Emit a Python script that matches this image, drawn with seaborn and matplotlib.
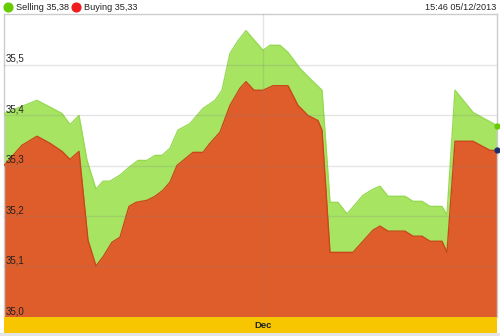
import matplotlib
matplotlib.use("Agg")
import matplotlib.pyplot as plt
from matplotlib.patches import Rectangle
from matplotlib.lines import Line2D
import matplotlib.transforms as mtransforms
import seaborn as sns

# --- data (time position along the axis, rate values) ---
sell_t = [0, 33, 58, 66, 75, 83, 92, 99, 106, 116, 126, 134, 143, 151, 158, 166, 174, 186,
          199, 211, 218, 226, 234, 242, 259, 266, 276, 284, 296, 306, 318, 326, 334, 343,
          359, 369, 376, 384, 401, 409, 418, 426, 438, 443, 451, 469, 493]
sell_v = [35.403, 35.429, 35.403, 35.381, 35.399, 35.310, 35.253, 35.269, 35.269, 35.281,
          35.298, 35.310, 35.310, 35.320, 35.320, 35.334, 35.370, 35.383, 35.413, 35.429,
          35.449, 35.522, 35.547, 35.567, 35.528, 35.538, 35.538, 35.524, 35.492, 35.472,
          35.449, 35.227, 35.227, 35.204, 35.241, 35.253, 35.259, 35.239, 35.239, 35.229,
          35.229, 35.219, 35.219, 35.202, 35.449, 35.405, 35.379]
buy_t = [0, 18, 33, 46, 58, 66, 75, 84, 92, 99, 108, 116, 125, 132, 143, 151, 159, 166, 173,
         189, 199, 206, 216, 226, 236, 242, 250, 259, 269, 284, 294, 304, 314, 318, 326,
         349, 369, 376, 384, 401, 409, 418, 426, 438, 443, 451, 469, 486, 493]
buy_v = [35.300, 35.340, 35.358, 35.344, 35.328, 35.312, 35.328, 35.152, 35.101, 35.119,
         35.148, 35.158, 35.219, 35.227, 35.231, 35.239, 35.251, 35.267, 35.300, 35.326,
         35.326, 35.344, 35.366, 35.419, 35.453, 35.466, 35.449, 35.449, 35.458, 35.458,
         35.419, 35.399, 35.389, 35.370, 35.128, 35.128, 35.172, 35.180, 35.170, 35.170,
         35.160, 35.160, 35.150, 35.150, 35.128, 35.348, 35.348, 35.330, 35.330]
y_ticks = [35.0, 35.1, 35.2, 35.3, 35.4, 35.5]
y_labels = ["35,0", "35,1", "35,2", "35,3", "35,4", "35,5"]
month_pos = [259]
month_labels = ["Dec"]
legend_labels = ["Selling 35,38", "Buying 35,33"]
timestamp = "15:46 05/12/2013"

sns.set_style("white")
plt.rcParams["font.family"] = ["Liberation Sans", "DejaVu Sans"]

W, H = 500, 336
fig = plt.figure(figsize=(5.0, 3.36), dpi=100)
fig.patch.set_facecolor("white")

x0, x1, ytop, ybot = 4, 497, 14, 317
ax = fig.add_axes([x0 / W, (H - ybot) / H, (x1 - x0) / W, (ybot - ytop) / H])
ax.set_facecolor("white")

GREEN_FILL = "#a6e462"
GREEN_LINE = "#97da52"
RED_FILL = "#df5d2b"
RED_LINE = "#cc461c"

ymin, ymax = 35.0, 35.6
ax.fill_between(sell_t, sell_v, ymin, color=GREEN_FILL, lw=0, zorder=1)
ax.fill_between(buy_t, buy_v, ymin, color=RED_FILL, lw=0, zorder=2)
sns.lineplot(x=sell_t, y=sell_v, ax=ax, color=GREEN_LINE, lw=1.0, zorder=3, sort=False)
sns.lineplot(x=buy_t, y=buy_v, ax=ax, color=RED_LINE, lw=1.0, zorder=4, sort=False)

# end markers
ax.plot([sell_t[-1]], [sell_v[-1]], "o", color="#66cc00", ms=3.5, zorder=6, clip_on=False)
ax.plot([buy_t[-1]], [buy_v[-1]], "o", color="#1c2e6e", ms=3.5, zorder=6, clip_on=False)

# grid lines drawn over the fills (faint)
for yt in y_ticks:
    ax.axhline(yt, color="#808080", alpha=0.2, lw=1, zorder=5)
for mp in month_pos:
    ax.axvline(mp, color="#808080", alpha=0.2, lw=1, zorder=5)

ax.set_xlim(0, 493)
ax.set_ylim(ymin, ymax)
ax.set_xticks([])
ax.set_yticks([])
ax.set_xlabel("")
ax.set_ylabel("")
for side, sp in ax.spines.items():
    sp.set_color("#cccccc")
    sp.set_linewidth(1)
ax.spines["bottom"].set_visible(False)

# y labels inside the plot
trans = mtransforms.blended_transform_factory(ax.transAxes, ax.transData)
for yt, lab in zip(y_ticks, y_labels):
    ax.text(2 / (x1 - x0), yt + 0.001, lab, transform=trans, ha="left", va="bottom",
            fontsize=7, color="#222222", zorder=7)

# bottom yellow band and gray strip
fig.patches.append(Rectangle((x0 / W, (H - 333) / H), (x1 - x0) / W, 16 / H,
                             transform=fig.transFigure, facecolor="#f7c600",
                             edgecolor="none", zorder=0))
fig.patches.append(Rectangle((0, 0), 1, 3 / H, transform=fig.transFigure,
                             facecolor="#e4e4e4", edgecolor="none", zorder=0))
for mp, lab in zip(month_pos, month_labels):
    xf = (x0 + mp / 493 * (x1 - x0)) / W
    fig.text(xf, (H - 325) / H, lab, ha="center", va="center", fontsize=6.8,
             fontweight="bold", color="#222222")

# legend at top
leg_colors = ["#66cc00", "#ee1c1c"]
leg_x = [8, 76]
for cx, col, lab in zip(leg_x, leg_colors, legend_labels):
    fig.add_artist(Line2D([cx / W], [(H - 7) / H], transform=fig.transFigure,
                          marker="o", ms=6.3, color=col, lw=0))
    fig.text((cx + 7.5) / W, (H - 7) / H, lab, ha="left", va="center", fontsize=6.6,
             color="#222222")
fig.text(496 / W, (H - 7) / H, timestamp, ha="right", va="center", fontsize=6.6,
         color="#222222")

fig.savefig("out.png", dpi=100)
